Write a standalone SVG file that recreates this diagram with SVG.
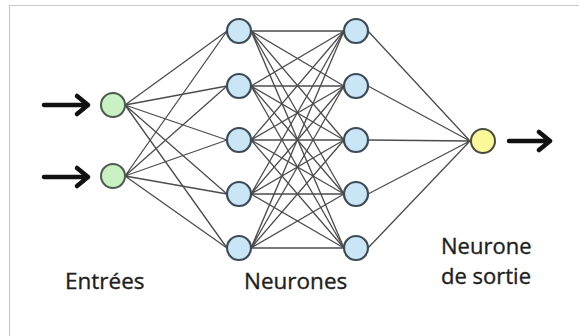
<svg xmlns="http://www.w3.org/2000/svg" width="579" height="336" viewBox="0 0 579 336">
<style>
.edge{stroke:#4c4c4c;stroke-width:1.3;fill:none}
.in{fill:#c9f1c3;stroke:#4d5a4d;stroke-width:2}
.hid{fill:#c9e5f6;stroke:#3c4b56;stroke-width:2.2}
.out{fill:#fbf89a;stroke:#4a4a40;stroke-width:2}
.arrow{stroke:#111;stroke-width:4.5;fill:none;stroke-linecap:round;stroke-linejoin:round}
.lbl{font-family:"Open Sans","Noto Sans",sans-serif;font-size:22.5px;fill:#1e1e1e;stroke:#1e1e1e;stroke-width:0.35}
.sm{font-size:22px}
</style>
<rect width="579" height="336" fill="#fff"/>
<path d="M9.5,336 V5.5 H579" fill="none" stroke="#c8c8c8" stroke-width="1.2"/>
<g id="connectors">
<path class="edge" d="M125,105 L227,31 M125,105 L227,86 M125,105 L227,140 M125,105 L227,194 M125,105 L227,248"/>
<path class="edge" d="M125,176 L227,31 M125,176 L227,86 M125,176 L227,140 M125,176 L227,194 M125,176 L227,248"/>
<path class="edge" d="M251,31 L344,31 M251,31 L344,86 M251,31 L344,140 M251,31 L344,194 M251,31 L344,248"/>
<path class="edge" d="M251,86 L344,31 M251,86 L344,86 M251,86 L344,140 M251,86 L344,194 M251,86 L344,248"/>
<path class="edge" d="M251,140 L344,31 M251,140 L344,86 M251,140 L344,140 M251,140 L344,194 M251,140 L344,248"/>
<path class="edge" d="M251,194 L344,31 M251,194 L344,86 M251,194 L344,140 M251,194 L344,194 M251,194 L344,248"/>
<path class="edge" d="M251,248 L344,31 M251,248 L344,86 M251,248 L344,140 M251,248 L344,194 M251,248 L344,248"/>
<path class="edge" d="M368,31 L470,141 M368,86 L470,141 M368,140 L470,141 M368,194 L470,141 M368,248 L470,141"/>
<path class="arrow" d="M44,105 H88 M77,96 L88,105 L77,114"/>
<path class="arrow" d="M44,177 H88 M77,168 L88,177 L77,186"/>
<path class="arrow" d="M509,141 H550 M539,132 L550,141 L539,150"/>
</g>
<g id="in1"><circle class="in" cx="113" cy="105" r="12"/></g>
<g id="in2"><circle class="in" cx="113" cy="176" r="12"/></g>
<g id="h1a"><circle class="hid" cx="239" cy="31" r="12"/></g>
<g id="h1b"><circle class="hid" cx="239" cy="86" r="12"/></g>
<g id="h1c"><circle class="hid" cx="239" cy="140" r="12"/></g>
<g id="h1d"><circle class="hid" cx="239" cy="194" r="12"/></g>
<g id="h1e"><circle class="hid" cx="239" cy="248" r="12"/></g>
<g id="h2a"><circle class="hid" cx="356" cy="31" r="12"/></g>
<g id="h2b"><circle class="hid" cx="356" cy="86" r="12"/></g>
<g id="h2c"><circle class="hid" cx="356" cy="140" r="12"/></g>
<g id="h2d"><circle class="hid" cx="356" cy="194" r="12"/></g>
<g id="h2e"><circle class="hid" cx="356" cy="248" r="12"/></g>
<g id="out"><circle class="out" cx="483" cy="141" r="12"/></g>
<g id="labels">
<text class="lbl" x="65" y="289">Entrées</text>
<text class="lbl" x="244" y="289">Neurones</text>
<text class="lbl sm" x="441" y="254">Neurone</text>
<text class="lbl sm" x="441" y="284">de sortie</text>
</g>
</svg>
